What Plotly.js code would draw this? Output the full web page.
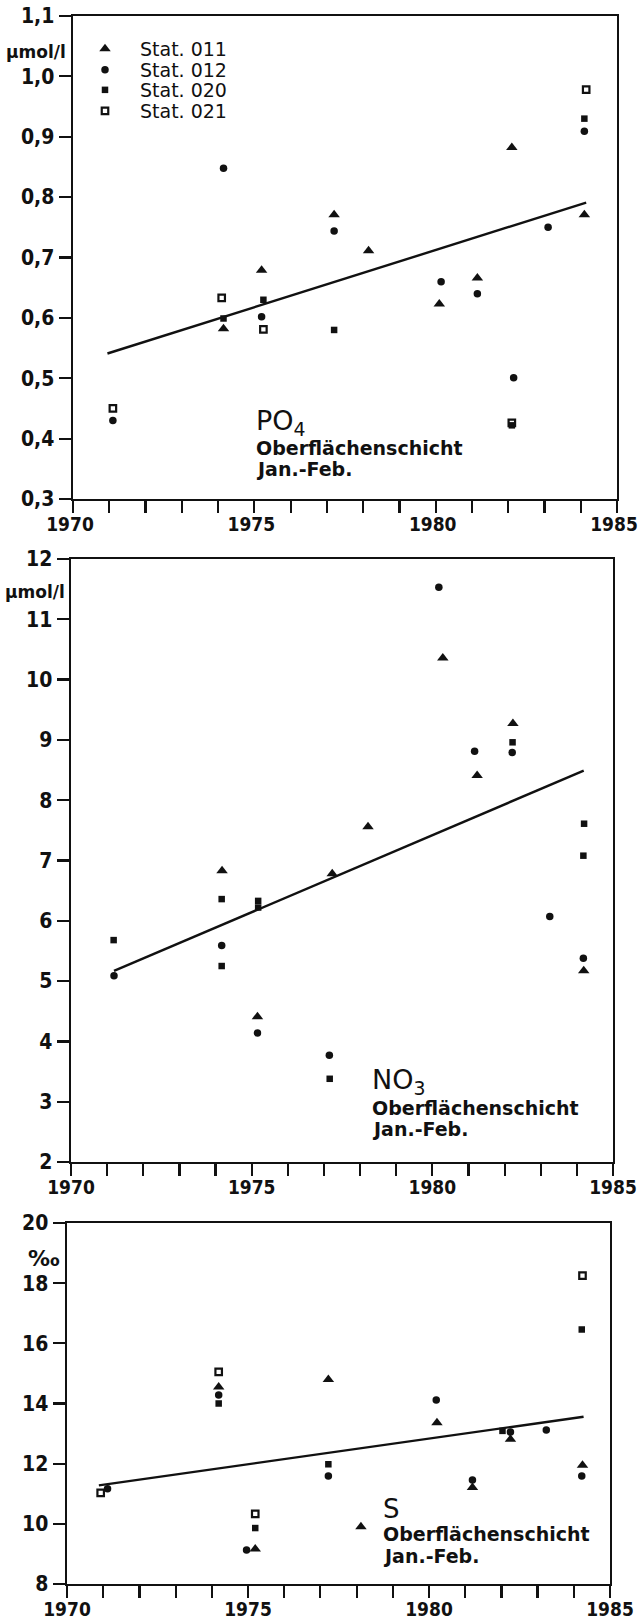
<!DOCTYPE html>
<html>
<head>
<meta charset="utf-8">
<script src="https://cdn.plot.ly/plotly-3.0.1.min.js"></script>
<style>
html,body{margin:0;padding:0;background:#fff;}
#chart{width:638px;height:1622px;}
</style>
</head>
<body>
<div id="chart"></div>
<script>
// ---------- tick labels ----------
const yearTicks = [1970,1971,1972,1973,1974,1975,1976,1977,1978,1979,1980,1981,1982,1983,1984,1985];
const yearLabels = ['1970','','','','','1975','','','','','1980','','','','','1985'];
const stationNames = ['Stat. 011','Stat. 012','Stat. 020','Stat. 021'];

// ---------- PO4 (µmol/l) ----------
const po4_011_x = [1974.15,1975.2,1977.2,1978.15,1980.1,1981.15,1982.1,1984.1];
const po4_011_y = [0.582,0.679,0.771,0.711,0.623,0.666,0.882,0.771];
const po4_012_x = [1971.1,1974.15,1975.2,1977.2,1980.15,1981.15,1982.15,1983.1,1984.1];
const po4_012_y = [0.430,0.848,0.602,0.744,0.660,0.640,0.501,0.750,0.909];
const po4_020_x = [1974.15,1975.25,1977.2,1982.1,1984.1];
const po4_020_y = [0.599,0.630,0.580,0.422,0.930];
const po4_021_x = [1971.1,1974.1,1975.25,1982.1,1984.15];
const po4_021_y = [0.450,0.633,0.581,0.426,0.978];
const po4_trend_x = [1970.95,1984.15];
const po4_trend_y = [0.541,0.791];

// ---------- NO3 (µmol/l) ----------
const no3_011_x = [1974.18,1975.16,1977.23,1978.22,1980.29,1981.24,1982.23,1984.19];
const no3_011_y = [6.83,4.41,6.78,7.56,10.36,8.41,9.27,5.17];
const no3_012_x = [1971.19,1974.17,1975.16,1977.15,1980.18,1981.17,1982.21,1983.25,1984.18];
const no3_012_y = [5.09,5.59,4.14,3.77,11.53,8.81,8.79,6.07,5.38];
const no3_020_x = [1971.18,1974.17,1974.17,1975.18,1975.18,1977.16,1982.22,1984.2,1984.18];
const no3_020_y = [5.68,6.36,5.25,6.33,6.22,3.38,8.96,7.61,7.08];
const no3_trend_x = [1971.19,1984.19];
const no3_trend_y = [5.17,8.49];

// ---------- S (‰) ----------
const s_011_x = [1974.19,1975.2,1977.22,1978.12,1980.22,1981.2,1982.25,1984.24];
const s_011_y = [14.55,9.16,14.80,9.90,13.36,11.21,12.81,11.95];
const s_012_x = [1971.12,1974.19,1974.96,1977.22,1980.2,1981.2,1982.25,1983.24,1984.22];
const s_012_y = [11.17,14.28,9.13,11.59,14.12,11.46,13.05,13.12,11.59];
const s_020_x = [1974.19,1975.2,1977.22,1982.03,1984.22];
const s_020_y = [14.0,9.86,11.98,13.09,16.46];
const s_021_x = [1970.93,1974.19,1975.2,1984.24];
const s_021_y = [11.03,15.05,10.33,18.25];
const s_trend_x = [1970.88,1984.27];
const s_trend_y = [11.28,13.56];

// ---------- styling ----------
const W = 638, H = 1622;
const px = v => v / W;
const py = v => 1 - v / H;
const TXT = 'DejaVu Sans, Noto Sans, sans-serif';
const NUM = 'Liberation Sans Narrow, DejaVu Sans Condensed, Liberation Sans, sans-serif';
const black = '#111';

const sym = {
  s011: {symbol:'triangle-up', size:10, color:black},
  s012: {symbol:'circle', size:7.5, color:black},
  s020: {symbol:'square', size:6.5, color:black},
  s021: {symbol:'square-open', size:6.5, color:black, line:{width:2.2, color:black}}
};
const legendIds = ['legend','legend2','legend3','legend4'];

function pts(x, y, m, idx, ax, show) {
  return {type:'scatter', mode:'markers', x:x, y:y, name:stationNames[idx],
    legend:legendIds[idx],
    xaxis:'x'+ax, yaxis:'y'+ax, marker:m, showlegend:show, hoverinfo:'skip'};
}
function trend(x, y, ax) {
  return {type:'scatter', mode:'lines', x:x, y:y, xaxis:'x'+ax, yaxis:'y'+ax,
    line:{color:black, width:2.4}, showlegend:false, hoverinfo:'skip'};
}

const data = [
  pts(po4_011_x, po4_011_y, sym.s011, 0, '', true),
  pts(po4_012_x, po4_012_y, sym.s012, 1, '', true),
  pts(po4_020_x, po4_020_y, sym.s020, 2, '', true),
  pts(po4_021_x, po4_021_y, sym.s021, 3, '', true),
  trend(po4_trend_x, po4_trend_y, ''),
  pts(no3_011_x, no3_011_y, sym.s011, 0, '2', false),
  pts(no3_012_x, no3_012_y, sym.s012, 1, '2', false),
  pts(no3_020_x, no3_020_y, sym.s020, 2, '2', false),
  trend(no3_trend_x, no3_trend_y, '2'),
  pts(s_011_x, s_011_y, sym.s011, 0, '3', false),
  pts(s_012_x, s_012_y, sym.s012, 1, '3', false),
  pts(s_020_x, s_020_y, sym.s020, 2, '3', false),
  pts(s_021_x, s_021_y, sym.s021, 3, '3', false),
  trend(s_trend_x, s_trend_y, '3')
];

const yTickFont = {family:NUM, size:21, color:black, weight:'bold'};
const xTickFont = {family:NUM, size:19, color:black, weight:'bold'};

function xax(l, r, anchor, shift) {
  return {domain:[px(l), px(r)], range:[1970,1985], anchor:anchor,
    tickmode:'array', tickvals:yearTicks, ticktext:yearLabels,
    ticks:'outside', ticklen:12, tickwidth:2.2, tickcolor:black,
    ticklabelstandoff:-5, ticklabelshift:shift, ticklabeloverflow:'allow',
    showline:true, linewidth:2.4, linecolor:black, mirror:true,
    showgrid:false, zeroline:false, tickfont:xTickFont};
}
function yax(t, b, rng, dt, fmt, anchor) {
  return {domain:[py(b), py(t)], range:rng, anchor:anchor,
    tickmode:'linear', tick0:rng[0], dtick:dt, tickformat:fmt,
    ticks:'outside', ticklen:12, tickwidth:2.2, tickcolor:black,
    ticklabeloverflow:'allow',
    showline:true, linewidth:2.4, linecolor:black, mirror:true,
    showgrid:false, zeroline:false, tickfont:yTickFont};
}

function ann(text, x, y, size, anchor, weight) {
  return {text:text, xref:'paper', yref:'paper', x:px(x), y:py(y),
    xanchor:anchor||'left', yanchor:'middle', showarrow:false,
    font:{family:TXT, size:size, color:black, weight:weight||'bold'}};
}
function leg(yc) {
  return {x:px(70), y:py(yc), xanchor:'left', yanchor:'middle',
    bgcolor:'rgba(0,0,0,0)', borderwidth:0, itemwidth:60,
    font:{family:TXT, size:19, color:black}};
}

const layout = {
  width:W, height:H,
  margin:{l:0, r:0, t:0, b:0},
  paper_bgcolor:'#fff', plot_bgcolor:'#fff',
  separators:',.',
  xaxis: xax(73, 617, 'y', -3),
  yaxis: yax(16, 499, [0.3,1.1], 0.1, '.1f', 'x'),
  xaxis2: xax(71, 613, 'y2', 0),
  yaxis2: yax(559, 1162, [2,12], 1, 'd', 'x2'),
  xaxis3: xax(67, 610, 'y3', 0),
  yaxis3: yax(1223, 1584, [8,20], 2, 'd', 'x3'),
  showlegend:true,
  legend: leg(49),
  legend2: leg(70),
  legend3: leg(90),
  legend4: leg(111),
  annotations:[
    ann('µmol/l', 68, 52, 17, 'right'),
    ann('µmol/l', 67, 592, 17, 'right'),
    ann('‰', 62, 1258, 22, 'right'),
    ann('PO<sub>4</sub>', 254, 422, 27, 'left', 'normal'),
    ann('Oberflächenschicht', 254, 448, 19),
    ann('Jan.-Feb.', 254, 469, 19),
    ann('NO<sub>3</sub>', 370, 1081, 27, 'left', 'normal'),
    ann('Oberflächenschicht', 370, 1108, 19),
    ann('Jan.-Feb.', 370, 1129, 19),
    ann('S', 381, 1509, 26, 'left', 'normal'),
    ann('Oberflächenschicht', 381, 1534, 19),
    ann('Jan.-Feb.', 381, 1556, 19)
  ]
};

Plotly.newPlot('chart', data, layout, {staticPlot:true, displayModeBar:false});
</script>
</body>
</html>
